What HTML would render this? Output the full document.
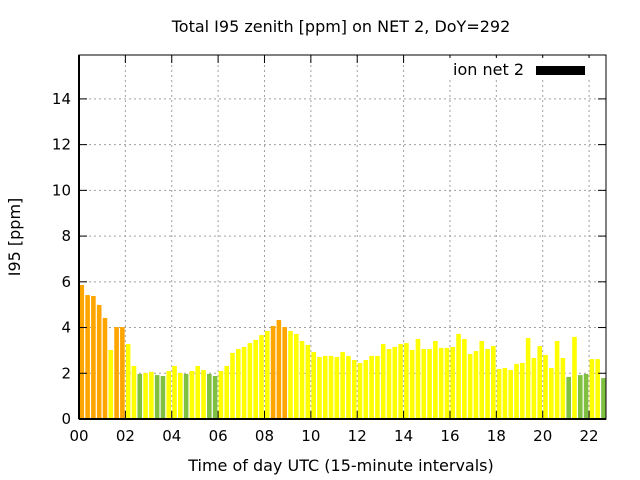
<!DOCTYPE html>
<html><head><meta charset="utf-8"><style>
body{margin:0;background:#fff;}
svg{display:block;font-family:"DejaVu Sans","Liberation Sans",sans-serif;}
</style></head><body>
<svg id="chart" width="640" height="480">
<text x="341" y="32" font-size="16" text-anchor="middle">Total I95 zenith [ppm] on NET 2, DoY=292</text>
<text x="341" y="471" font-size="16" text-anchor="middle">Time of day UTC (15-minute intervals)</text>
<text x="20" y="237" font-size="16" text-anchor="middle" transform="rotate(-90 20 237)">I95 [ppm]</text>
<g id="grid"></g>
<g id="bars"></g>
<g id="axes"></g>
<rect x="446" y="58" width="150" height="22" fill="#fff"/>
<text x="524" y="75" font-size="16" text-anchor="end">ion net 2</text>
<rect x="536" y="66" width="49" height="9" fill="#000"/>
</svg>
<script>
const values = [5.86,5.42,5.38,4.99,4.42,3.02,4.02,4.02,3.28,2.32,1.97,2.01,2.06,1.92,1.88,2.1,2.32,2.01,1.97,2.1,2.32,2.14,1.97,1.88,2.1,2.32,2.89,3.06,3.15,3.32,3.46,
3.67,3.85,4.07,4.33,4.02,3.85,3.72,3.41,3.24,2.93,2.71,2.76,2.76,2.71,2.93,2.76,2.58,2.45,2.58,2.76,2.76,3.28,3.06,3.15,3.28,3.32,3.02,3.5,3.06,
3.06,3.41,3.11,3.11,3.15,3.72,3.5,2.84,2.97,3.41,3.06,3.19,2.19,2.23,2.14,2.41,2.45,3.54,2.67,3.19,2.8,2.23,3.41,2.67,1.84,3.59,1.92,1.97,2.62,2.62,1.79,1.92];
const yTicks = [0,2,4,6,8,10,12,14];
const xTicks = ["00","02","04","06","08","10","12","14","16","18","20","22"];
const L=79,R=606,T=55,B=419, XMAX=22.73, YMAX=15.92;
const sx=h=>L+(h/XMAX)*(R-L);
const sy=v=>B-(v/YMAX)*(B-T);
const NS="http://www.w3.org/2000/svg";
function mk(tag,attrs,parent){const e=document.createElementNS(NS,tag);for(const k in attrs)e.setAttribute(k,attrs[k]);document.getElementById(parent).appendChild(e);return e;}
const clip=document.createElementNS(NS,"clipPath");clip.setAttribute("id","pc");
const cr=document.createElementNS(NS,"rect");cr.setAttribute("x",L);cr.setAttribute("y",T);cr.setAttribute("width",R-L);cr.setAttribute("height",B-T);clip.appendChild(cr);
document.getElementById("chart").prepend(clip);
document.getElementById("bars").setAttribute("clip-path","url(#pc)");
yTicks.forEach((v,i)=>{
  const y=sy(v);
  if(v>0){const g=mk("line",{x1:L,x2:R,y1:y,y2:y,stroke:"#a0a0a0","stroke-dasharray":"2,3"},"grid");
  
  }
  const t=mk("text",{x:L-8,y:y+5,"font-size":15,"text-anchor":"end"},"axes");t.textContent=v;
  
  
  mk("line",{x1:L,x2:L+8,y1:y,y2:y,stroke:"#000"},"axes");
  mk("line",{x1:R-8,x2:R,y1:y,y2:y,stroke:"#000"},"axes");
});
xTicks.forEach((lab,i)=>{
  const x=sx(parseInt(lab,10));
  if(i>0){const g=mk("line",{x1:x,x2:x,y1:T,y2:B,stroke:"#a0a0a0","stroke-dasharray":"2,3"},"grid");
  
  }
  const t=mk("text",{x:x,y:B+22,"font-size":15,"text-anchor":"middle"},"axes");t.textContent=lab;
  
  
  mk("line",{x1:x,x2:x,y1:B,y2:B-8,stroke:"#000"},"axes");
  mk("line",{x1:x,x2:x,y1:T,y2:T+8,stroke:"#000"},"axes");
});
values.forEach((v,i)=>{
  const x0=sx(i*0.25), x1=sx((i+1)*0.25);
  const c=v>=4?"#ffa500":(v<2?"#80c040":"#ffff00");
  const b=mk("rect",{x:x0+0.5,y:sy(v),width:x1-x0-1.2,height:B-sy(v),fill:c},"bars");
  
  
});
const fr=mk("rect",{x:L,y:T,width:R-L,height:B-T,fill:"none",stroke:"#000","stroke-width":1},"axes");


mk("line",{x1:L,x2:R,y1:B,y2:B,stroke:"#000","stroke-width":2},"axes");
mk("line",{x1:L,x2:L,y1:T,y2:B,stroke:"#000","stroke-width":2},"axes");
</script>
</body></html>
